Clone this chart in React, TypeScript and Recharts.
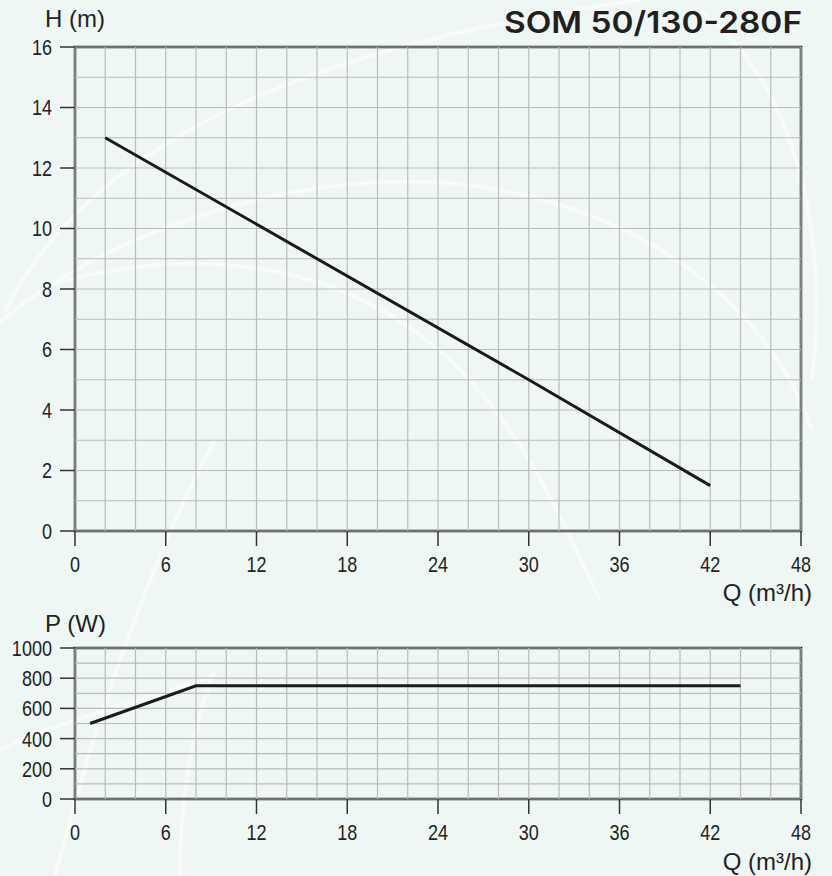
import { LineChart, Line, XAxis, YAxis, ReferenceArea, ReferenceLine } from "recharts";

// Q-H curve
const headFlow = [2, 30, 42];
const headValues = [13, 5, 1.5];

// Q-P curve
const powerFlow = [1, 8, 44];
const powerValues = [500, 750, 750];

const flowTicks = [0, 6, 12, 18, 24, 30, 36, 42, 48];
const flowMinorTicks = [0, 2, 4, 6, 8, 10, 12, 14, 16, 18, 20, 22, 24, 26, 28, 30, 32, 34, 36, 38, 40, 42, 44, 46, 48];
const headTicks = [0, 2, 4, 6, 8, 10, 12, 14, 16];
const headMinorTicks = [0, 1, 2, 3, 4, 5, 6, 7, 8, 9, 10, 11, 12, 13, 14, 15, 16];
const powerTicks = [0, 200, 400, 600, 800, 1000];
const powerMinorTicks = [0, 100, 200, 300, 400, 500, 600, 700, 800, 900, 1000];

const FONT = "'Liberation Sans', Arial, sans-serif";
const INK = "#232323";
const GRID = "#b8bdbb";
const BG = "#eff7f4";
const SQUEEZE = 0.82; // the original uses a condensed face

const NoLabel = () => <g />;

// condensed-looking tick labels
const XTick = (props: any) => {
  const { x, y, payload } = props;
  return (
    <text transform={`translate(${x},${y}) scale(${SQUEEZE},1)`} textAnchor="middle" dy="0.71em" fontSize={22} fill={INK} fontFamily={FONT}>
      {payload.value}
    </text>
  );
};

const YTick = (props: any) => {
  const { x, y, payload } = props;
  return (
    <text transform={`translate(${x},${y}) scale(${SQUEEZE},1)`} textAnchor="end" dy="0.36em" fontSize={22} fill={INK} fontFamily={FONT}>
      {payload.value}
    </text>
  );
};

interface PanelProps {
  data: { q: number; v: number }[];
  yMax: number;
  yTicks: number[];
  yMinorTicks: number[];
  height: number;
  top: number;
  xAxisHeight: number;
}

function Panel({ data, yMax, yTicks, yMinorTicks, height, top, xAxisHeight }: PanelProps) {
  return (
    <LineChart width={832} height={height} data={data} margin={{ top, right: 31, left: 0, bottom: 0 }}>
      {/* minor axes: short grey ticks, no labels */}
      <XAxis
        xAxisId="minor"
        dataKey="q"
        type="number"
        domain={[0, 48]}
        ticks={flowMinorTicks}
        interval={0}
        height={0}
        tick={NoLabel}
        axisLine={false}
        tickSize={8}
        tickLine={{ stroke: "#a3a8a6", strokeWidth: 1.2 }}
      />
      <YAxis
        yAxisId="minor"
        type="number"
        domain={[0, yMax]}
        ticks={yMinorTicks}
        interval={0}
        width={0}
        tick={NoLabel}
        axisLine={false}
        tickSize={7}
        tickLine={{ stroke: "#a3a8a6", strokeWidth: 1.2 }}
      />

      {/* major axes */}
      <XAxis
        dataKey="q"
        type="number"
        domain={[0, 48]}
        ticks={flowTicks}
        interval={0}
        height={xAxisHeight}
        axisLine={false}
        tickSize={15}
        tickMargin={10}
        tickLine={{ stroke: "#333", strokeWidth: 1.5 }}
        tick={XTick}
      />
      <YAxis
        type="number"
        domain={[0, yMax]}
        ticks={yTicks}
        interval={0}
        width={75}
        axisLine={false}
        tickSize={15}
        tickMargin={8}
        tickLine={{ stroke: "#333", strokeWidth: 1.5 }}
        tick={YTick}
      />

      {/* graph-paper grid */}
      {flowMinorTicks.map((t) => (
        <ReferenceLine key={`gx${t}`} x={t} stroke={GRID} strokeWidth={1.2} />
      ))}
      {yMinorTicks.map((t) => (
        <ReferenceLine key={`gy${t}`} y={t} stroke={GRID} strokeWidth={1.2} />
      ))}

      <ReferenceArea x1={0} x2={48} y1={0} y2={yMax} fill="none" stroke={INK} strokeWidth={2.5} />

      <Line
        type="linear"
        dataKey="v"
        stroke="#1b1b1b"
        strokeWidth={3}
        dot={false}
        isAnimationActive={false}
      />
    </LineChart>
  );
}

export default function App() {
  const headData = headFlow.map((q, i) => ({ q, v: headValues[i] }));
  const powerData = powerFlow.map((q, i) => ({ q, v: powerValues[i] }));

  const labelStyle = { fontSize: 24, fill: INK, fontFamily: FONT };

  return (
    <div style={{ position: "absolute", left: 0, top: 0, width: 832, height: 876, background: BG, overflow: "hidden" }}>
      {/* faint decorative swirls of the brochure background */}
      <svg width={832} height={876} style={{ position: "absolute", left: 0, top: 0 }}>
        <g fill="none" stroke="#ffffff" strokeOpacity={0.55} strokeWidth={4}>
          <path d="M 5 312 C 60 200, 200 60, 640 0" />
          <path d="M 0 322 C 120 222, 300 176, 430 182 C 600 190, 760 280, 812 430" />
          <path d="M 50 285 C 150 255, 300 245, 420 335 C 520 410, 560 520, 600 600" />
          <path d="M 700 10 C 790 80, 830 220, 812 380" />
          <path d="M 55 876 C 100 700, 160 540, 215 440" />
          <path d="M 0 750 C 60 720, 150 700, 212 676 C 190 740, 180 800, 180 876" />
        </g>
      </svg>

      <div style={{ position: "absolute", left: 0, top: 0 }}>
        <Panel data={headData} yMax={16} yTicks={headTicks} yMinorTicks={headMinorTicks} height={600} top={47} xAxisHeight={69} />
      </div>
      <div style={{ position: "absolute", left: 0, top: 600 }}>
        <Panel data={powerData} yMax={1000} yTicks={powerTicks} yMinorTicks={powerMinorTicks} height={276} top={48} xAxisHeight={77} />
      </div>

      <svg width={832} height={876} style={{ position: "absolute", left: 0, top: 0, pointerEvents: "none" }}>
        <text
          x={802}
          y={33}
          textAnchor="end"
          fontFamily="Inter, 'Noto Sans', sans-serif"
          fontWeight={600}
          fontSize={30}
          fill="#231f20"
          textLength={298}
          lengthAdjust="spacingAndGlyphs"
        >
          SOM 50/130-280F
        </text>
        <text x={45} y={27} {...labelStyle}>H (m)</text>
        <text x={812} y={601} textAnchor="end" {...labelStyle}>Q (m³/h)</text>
        <text x={45} y={632} {...labelStyle}>P (W)</text>
        <text x={812} y={870} textAnchor="end" {...labelStyle}>Q (m³/h)</text>
      </svg>
    </div>
  );
}
